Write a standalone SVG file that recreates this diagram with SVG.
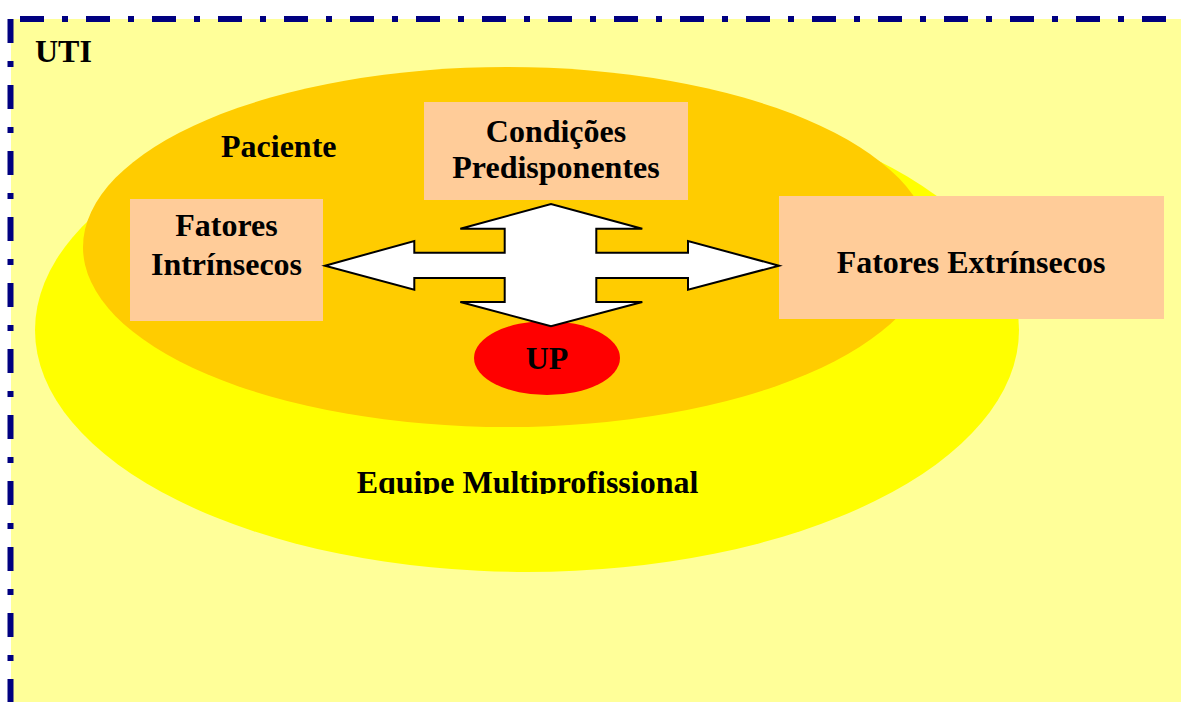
<svg xmlns="http://www.w3.org/2000/svg" width="1181" height="702" viewBox="0 0 1181 702">
<style>
.t{font-family:"Liberation Serif","Times New Roman",serif;font-weight:bold;font-size:32px;fill:#000;}
.m{text-anchor:middle;}
.box{fill:#FFCC99;}
.bd{stroke:#000080;stroke-width:6;stroke-dasharray:24 18 6 18;fill:none;}
</style>
<defs>
<clipPath id="clipEq"><rect x="0" y="0" width="1181" height="494"/></clipPath>
</defs>
<rect x="0" y="0" width="1181" height="702" fill="#FFFFFF"/>
<g id="uti">
<rect x="11" y="19" width="1170" height="683" fill="#FFFF99"/>
<line class="bd" x1="20" y1="19" x2="1181" y2="19"/>
<line class="bd" x1="10.5" y1="19" x2="10.5" y2="702"/>
<text class="t" x="35" y="62">UTI</text>
</g>
<g id="equipe">
<ellipse cx="527" cy="330" rx="492" ry="242" fill="#FFFF00"/>
<text class="t m" x="527.5" y="493" clip-path="url(#clipEq)">Equipe Multiprofissional</text>
</g>
<g id="paciente">
<ellipse cx="507" cy="247" rx="424" ry="180" fill="#FFCC00"/>
<text class="t" x="221" y="157">Paciente</text>
</g>
<g id="up">
<ellipse cx="547" cy="358" rx="73" ry="37" fill="#FF0000"/>
<text class="t m" x="547" y="369">UP</text>
</g>
<g id="condicoes">
<rect class="box" x="424" y="102" width="264" height="98"/>
<text class="t m" x="556" y="142">Condições</text>
<text class="t m" x="556" y="178">Predisponentes</text>
</g>
<g id="intrinsecos">
<rect class="box" x="130" y="199" width="193" height="122"/>
<text class="t m" x="226.5" y="236">Fatores</text>
<text class="t m" x="226.5" y="275">Intrínsecos</text>
</g>
<g id="extrinsecos">
<rect class="box" x="779" y="196" width="385" height="123"/>
<text class="t m" x="971" y="273">Fatores Extrínsecos</text>
</g>
<g id="connectors">
<path d="M325,265.7 L414.3,241 L414.3,252.7 L504.7,252.7 L504.7,228.7 L460.3,228.7 L551,204 L642.3,228.7 L596.3,228.7 L596.3,252.7 L688,252.7 L688,241 L779,265.7 L688,289.7 L688,278 L596.3,278 L596.3,302 L642.3,302 L551,326.3 L460.3,302 L504.7,302 L504.7,278 L414.3,278 L414.3,289.7 Z" fill="#FFFFFF" stroke="#000000" stroke-width="2" stroke-linejoin="miter"/>
</g>
</svg>
